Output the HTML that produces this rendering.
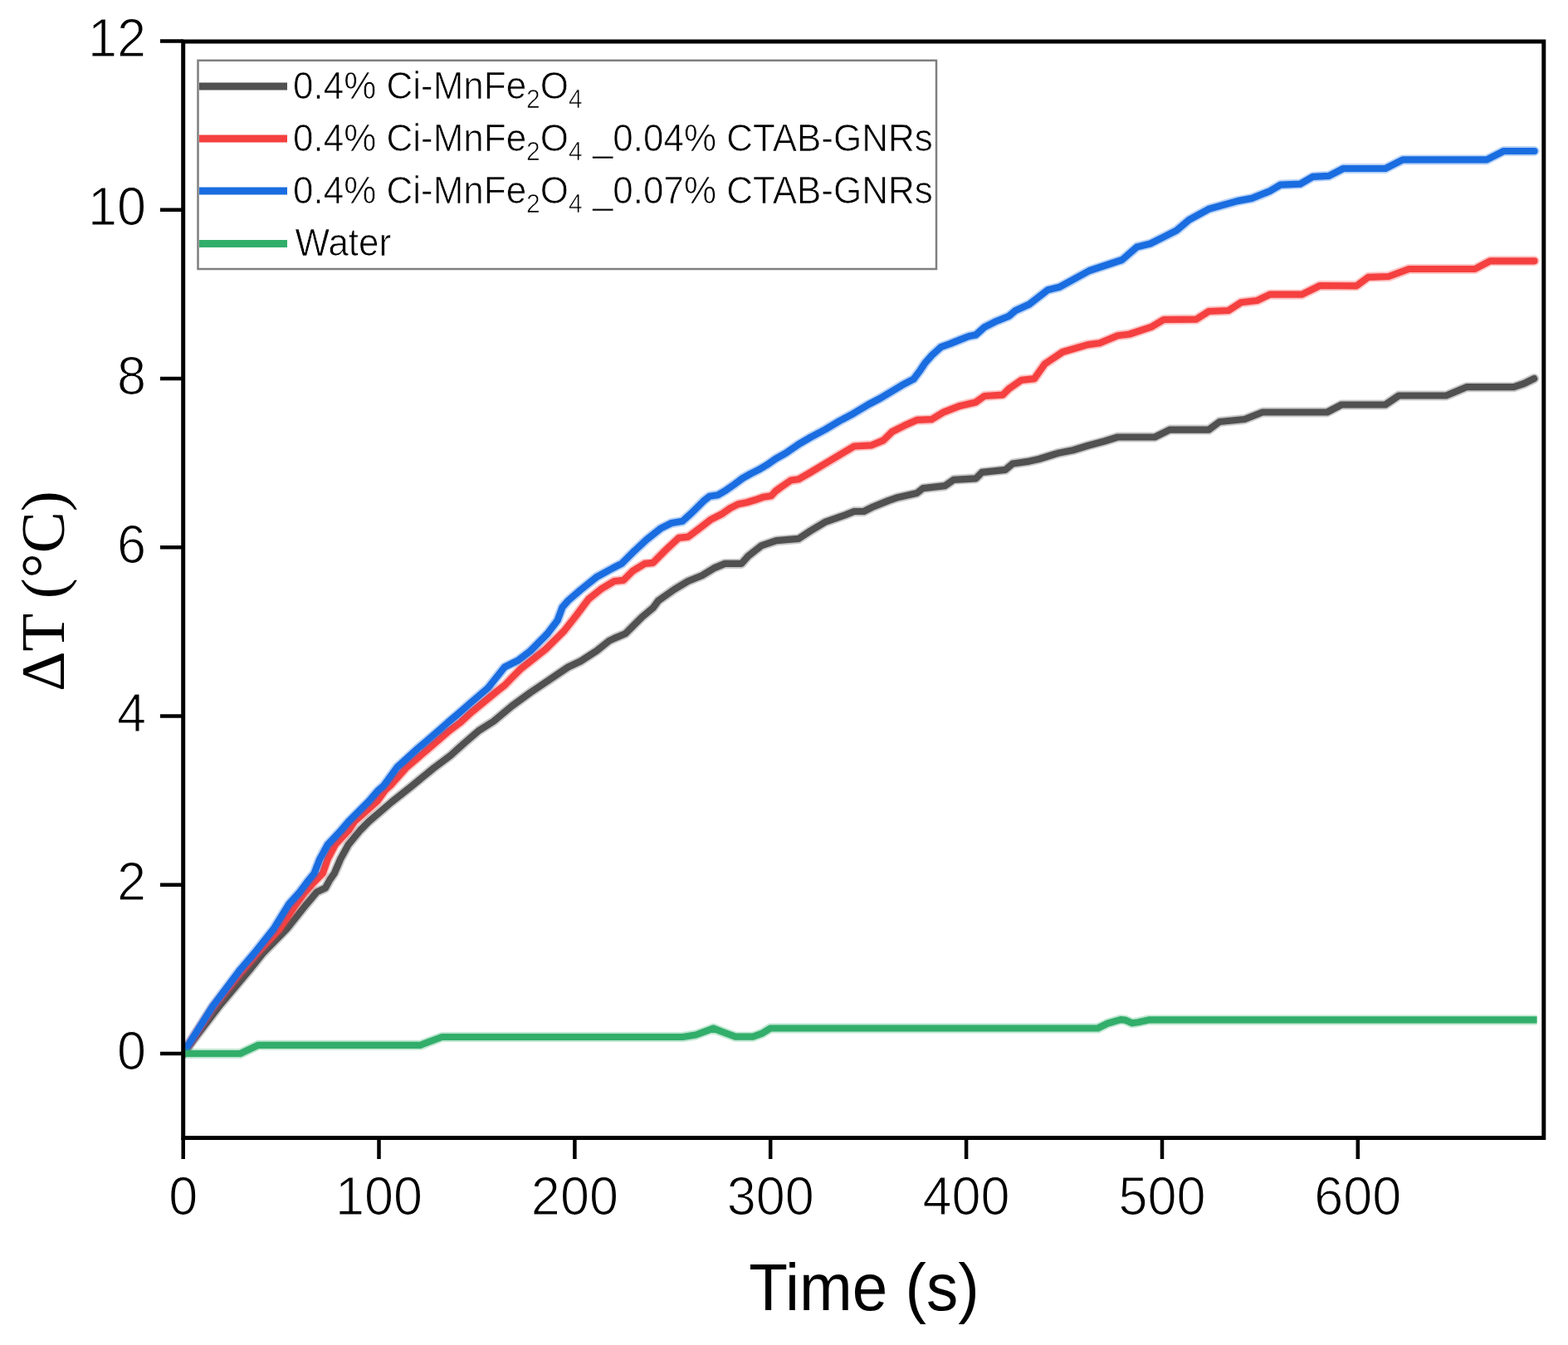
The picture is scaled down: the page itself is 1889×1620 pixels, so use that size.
<!DOCTYPE html>
<html><head><meta charset="utf-8"><title>Heating curves</title>
<style>html,body{margin:0;padding:0;background:#fff;}body{width:1889px;height:1620px;overflow:hidden;}svg{display:block;}</style>
</head><body>
<svg width="1889" height="1620" viewBox="0 0 1889 1620"><defs><clipPath id="pa"><rect x="220.7" y="50.0" width="1639.1" height="1320.5"/></clipPath></defs><rect width="1889" height="1620" fill="#fff"/><g fill="none" stroke-width="8.2" stroke-linejoin="round" stroke-linecap="round" clip-path="url(#pa)"><polyline points="220.7,1268.7 263.8,1212.2 301.0,1167.8 316.5,1148.5 345.4,1118.9 369.1,1089.3 381.7,1074.4 392.0,1069.5 397.4,1059.6 402.8,1051.9 410.2,1034.6 419.7,1017.3 434.0,1000.0 444.5,989.4 471.8,966.0 495.2,947.5 522.0,925.5 542.7,910.0 559.4,895.0 577.3,879.7 594.5,868.9 616.7,850.4 639.0,834.1 659.8,820.2 684.4,803.5 699.3,796.5 719.0,783.7 733.8,771.9 740.0,768.9 753.3,763.3 773.3,743.3 786.7,732.2 793.3,723.3 812.2,710.0 828.9,700.0 845.6,693.3 860.0,684.4 873.3,678.9 893.3,678.9 901.1,670.0 917.6,657.1 935.2,651.2 962.1,648.9 976.2,639.5 993.8,628.9 1017.3,620.7 1029.0,616.0 1040.7,616.0 1052.4,610.2 1070.0,603.1 1080.0,599.6 1104.4,594.1 1111.9,588.1 1138.5,585.2 1148.9,577.8 1175.6,576.3 1183.0,568.9 1211.1,565.9 1220.0,558.5 1240.0,555.6 1251.5,553.0 1274.8,545.8 1292.7,542.2 1310.6,536.8 1330.3,531.5 1346.4,526.5 1391.2,526.5 1409.1,517.6 1417.3,517.6 1456.2,517.6 1469.2,508.0 1499.4,505.0 1521.0,496.5 1598.8,496.5 1616.1,487.5 1668.9,487.5 1685.2,476.5 1742.2,476.5 1766.7,466.2 1823.7,466.2 1836.0,462.0 1848.2,456.0" stroke="#515151" stroke-width="12" stroke-opacity="0.3" stroke-linecap="round"/><polyline points="220.7,1268.7 263.8,1212.2 301.0,1167.8 316.5,1148.5 345.4,1118.9 369.1,1089.3 381.7,1074.4 392.0,1069.5 397.4,1059.6 402.8,1051.9 410.2,1034.6 419.7,1017.3 434.0,1000.0 444.5,989.4 471.8,966.0 495.2,947.5 522.0,925.5 542.7,910.0 559.4,895.0 577.3,879.7 594.5,868.9 616.7,850.4 639.0,834.1 659.8,820.2 684.4,803.5 699.3,796.5 719.0,783.7 733.8,771.9 740.0,768.9 753.3,763.3 773.3,743.3 786.7,732.2 793.3,723.3 812.2,710.0 828.9,700.0 845.6,693.3 860.0,684.4 873.3,678.9 893.3,678.9 901.1,670.0 917.6,657.1 935.2,651.2 962.1,648.9 976.2,639.5 993.8,628.9 1017.3,620.7 1029.0,616.0 1040.7,616.0 1052.4,610.2 1070.0,603.1 1080.0,599.6 1104.4,594.1 1111.9,588.1 1138.5,585.2 1148.9,577.8 1175.6,576.3 1183.0,568.9 1211.1,565.9 1220.0,558.5 1240.0,555.6 1251.5,553.0 1274.8,545.8 1292.7,542.2 1310.6,536.8 1330.3,531.5 1346.4,526.5 1391.2,526.5 1409.1,517.6 1417.3,517.6 1456.2,517.6 1469.2,508.0 1499.4,505.0 1521.0,496.5 1598.8,496.5 1616.1,487.5 1668.9,487.5 1685.2,476.5 1742.2,476.5 1766.7,466.2 1823.7,466.2 1836.0,462.0 1848.2,456.0" stroke="#515151" stroke-linecap="round"/><polyline points="220.7,1268.7 256.1,1214.0 290.0,1171.0 310.6,1147.0 336.5,1118.9 356.5,1089.3 367.6,1074.4 376.0,1065.0 388.8,1051.9 394.8,1034.6 403.9,1017.3 420.1,1000.0 427.1,989.4 454.8,964.7 463.5,952.3 470.2,946.3 490.0,924.1 516.0,901.9 541.8,879.7 554.8,870.0 567.2,858.5 598.8,832.5 608.4,825.0 616.0,817.0 626.9,806.0 638.0,797.2 657.3,782.0 679.5,760.0 694.3,741.2 709.1,721.5 724.0,709.6 740.0,700.0 751.1,698.9 762.2,687.8 776.7,678.9 786.7,677.8 801.1,663.3 817.8,647.8 828.9,646.7 842.2,636.7 856.7,625.6 869.8,619.0 879.6,612.1 889.5,607.2 899.4,605.2 909.3,602.3 919.2,598.8 929.1,597.3 934.0,591.9 940.0,587.4 952.8,578.5 962.1,577.3 976.2,569.1 993.8,558.6 1011.4,548.0 1029.0,537.5 1050.1,536.3 1064.2,530.4 1074.8,520.0 1089.6,512.6 1104.4,505.9 1122.2,505.2 1137.0,496.3 1156.3,488.9 1175.6,484.4 1185.9,477.0 1208.1,475.6 1215.6,468.1 1230.4,457.8 1246.1,456.2 1258.7,438.3 1280.1,424.0 1310.6,415.1 1324.9,413.3 1346.4,404.3 1360.7,402.5 1387.6,393.6 1401.9,385.0 1441.1,384.6 1456.2,375.0 1480.0,374.0 1495.1,364.3 1514.5,362.0 1529.7,354.7 1568.6,354.7 1590.2,344.0 1634.3,344.3 1648.5,333.8 1673.0,333.0 1697.4,324.0 1776.9,324.0 1795.2,314.3 1848.5,314.3" stroke="#f54040" stroke-width="12" stroke-opacity="0.3" stroke-linecap="round"/><polyline points="220.7,1268.7 256.1,1214.0 290.0,1171.0 310.6,1147.0 336.5,1118.9 356.5,1089.3 367.6,1074.4 376.0,1065.0 388.8,1051.9 394.8,1034.6 403.9,1017.3 420.1,1000.0 427.1,989.4 454.8,964.7 463.5,952.3 470.2,946.3 490.0,924.1 516.0,901.9 541.8,879.7 554.8,870.0 567.2,858.5 598.8,832.5 608.4,825.0 616.0,817.0 626.9,806.0 638.0,797.2 657.3,782.0 679.5,760.0 694.3,741.2 709.1,721.5 724.0,709.6 740.0,700.0 751.1,698.9 762.2,687.8 776.7,678.9 786.7,677.8 801.1,663.3 817.8,647.8 828.9,646.7 842.2,636.7 856.7,625.6 869.8,619.0 879.6,612.1 889.5,607.2 899.4,605.2 909.3,602.3 919.2,598.8 929.1,597.3 934.0,591.9 940.0,587.4 952.8,578.5 962.1,577.3 976.2,569.1 993.8,558.6 1011.4,548.0 1029.0,537.5 1050.1,536.3 1064.2,530.4 1074.8,520.0 1089.6,512.6 1104.4,505.9 1122.2,505.2 1137.0,496.3 1156.3,488.9 1175.6,484.4 1185.9,477.0 1208.1,475.6 1215.6,468.1 1230.4,457.8 1246.1,456.2 1258.7,438.3 1280.1,424.0 1310.6,415.1 1324.9,413.3 1346.4,404.3 1360.7,402.5 1387.6,393.6 1401.9,385.0 1441.1,384.6 1456.2,375.0 1480.0,374.0 1495.1,364.3 1514.5,362.0 1529.7,354.7 1568.6,354.7 1590.2,344.0 1634.3,344.3 1648.5,333.8 1673.0,333.0 1697.4,324.0 1776.9,324.0 1795.2,314.3 1848.5,314.3" stroke="#f54040" stroke-linecap="round"/><polyline points="220.7,1268.7 226.7,1258.9 256.1,1212.2 289.4,1167.8 306.0,1148.5 329.6,1118.9 347.8,1089.3 361.1,1074.4 371.9,1060.0 378.5,1052.0 385.3,1034.6 394.8,1017.3 411.0,1000.0 420.0,989.4 444.7,964.7 455.2,952.3 462.2,946.3 478.4,924.1 502.9,901.9 528.9,879.7 539.8,870.0 553.4,858.5 567.0,846.5 588.0,828.5 607.9,803.5 624.0,795.5 639.0,784.0 659.7,763.0 671.6,747.2 677.5,731.4 684.4,723.5 699.3,710.6 719.0,694.8 738.8,684.0 748.9,678.9 762.2,665.6 778.9,650.0 795.6,636.7 808.9,630.0 822.2,627.8 834.4,616.7 847.8,603.3 854.9,597.8 864.8,596.3 874.7,590.4 884.6,583.5 894.5,576.1 904.3,570.6 914.2,565.7 924.1,559.8 934.0,552.8 946.9,545.7 962.1,535.1 976.2,526.9 993.8,517.5 1011.4,507.0 1029.0,497.6 1046.6,487.0 1060.0,480.0 1070.0,474.0 1086.7,463.9 1100.6,456.7 1108.9,445.6 1114.4,437.2 1122.8,427.8 1133.9,417.8 1145.0,413.9 1156.1,409.4 1167.2,405.0 1175.6,403.4 1185.9,394.1 1200.7,386.7 1215.6,380.7 1223.0,374.3 1240.0,366.5 1262.2,349.3 1276.6,345.7 1312.4,326.0 1351.8,313.0 1369.7,297.4 1385.8,293.5 1400.0,286.4 1417.3,277.6 1432.4,264.8 1456.2,251.8 1490.8,242.1 1508.1,238.9 1529.7,230.2 1542.6,222.6 1566.4,221.6 1581.5,212.9 1601.0,211.8 1618.3,203.0 1669.0,203.0 1690.0,192.4 1791.1,192.4 1811.5,182.0 1848.5,182.0" stroke="#1a6de0" stroke-width="12" stroke-opacity="0.3" stroke-linecap="round"/><polyline points="220.7,1268.7 226.7,1258.9 256.1,1212.2 289.4,1167.8 306.0,1148.5 329.6,1118.9 347.8,1089.3 361.1,1074.4 371.9,1060.0 378.5,1052.0 385.3,1034.6 394.8,1017.3 411.0,1000.0 420.0,989.4 444.7,964.7 455.2,952.3 462.2,946.3 478.4,924.1 502.9,901.9 528.9,879.7 539.8,870.0 553.4,858.5 567.0,846.5 588.0,828.5 607.9,803.5 624.0,795.5 639.0,784.0 659.7,763.0 671.6,747.2 677.5,731.4 684.4,723.5 699.3,710.6 719.0,694.8 738.8,684.0 748.9,678.9 762.2,665.6 778.9,650.0 795.6,636.7 808.9,630.0 822.2,627.8 834.4,616.7 847.8,603.3 854.9,597.8 864.8,596.3 874.7,590.4 884.6,583.5 894.5,576.1 904.3,570.6 914.2,565.7 924.1,559.8 934.0,552.8 946.9,545.7 962.1,535.1 976.2,526.9 993.8,517.5 1011.4,507.0 1029.0,497.6 1046.6,487.0 1060.0,480.0 1070.0,474.0 1086.7,463.9 1100.6,456.7 1108.9,445.6 1114.4,437.2 1122.8,427.8 1133.9,417.8 1145.0,413.9 1156.1,409.4 1167.2,405.0 1175.6,403.4 1185.9,394.1 1200.7,386.7 1215.6,380.7 1223.0,374.3 1240.0,366.5 1262.2,349.3 1276.6,345.7 1312.4,326.0 1351.8,313.0 1369.7,297.4 1385.8,293.5 1400.0,286.4 1417.3,277.6 1432.4,264.8 1456.2,251.8 1490.8,242.1 1508.1,238.9 1529.7,230.2 1542.6,222.6 1566.4,221.6 1581.5,212.9 1601.0,211.8 1618.3,203.0 1669.0,203.0 1690.0,192.4 1791.1,192.4 1811.5,182.0 1848.5,182.0" stroke="#1a6de0" stroke-linecap="round"/><polyline points="220.7,1269.0 289.5,1269.0 311.2,1258.8 506.5,1258.8 532.5,1249.0 822.4,1249.0 838.2,1246.5 859.4,1238.6 870.0,1242.8 885.9,1248.7 907.1,1248.7 917.6,1244.9 928.2,1238.5 1322.5,1238.5 1334.1,1232.8 1350.0,1228.1 1355.3,1228.6 1363.8,1232.3 1371.2,1231.2 1383.9,1228.4 1851.6,1228.4" stroke="#32ae6b" stroke-width="12" stroke-opacity="0.3" stroke-linecap="butt"/><polyline points="220.7,1269.0 289.5,1269.0 311.2,1258.8 506.5,1258.8 532.5,1249.0 822.4,1249.0 838.2,1246.5 859.4,1238.6 870.0,1242.8 885.9,1248.7 907.1,1248.7 917.6,1244.9 928.2,1238.5 1322.5,1238.5 1334.1,1232.8 1350.0,1228.1 1355.3,1228.6 1363.8,1232.3 1371.2,1231.2 1383.9,1228.4 1851.6,1228.4" stroke="#32ae6b" stroke-linecap="butt"/></g><rect x="220.7" y="50.0" width="1639.1" height="1320.5" fill="none" stroke="#000" stroke-width="5"/><path d="M220.7,1370.5V1396M456.5,1370.5V1396M692.4,1370.5V1396M928.2,1370.5V1396M1164.1,1370.5V1396M1400.0,1370.5V1396M1635.8,1370.5V1396M220.7,1269.0H193M220.7,1065.8H193M220.7,862.5H193M220.7,659.3H193M220.7,456.0H193M220.7,252.8H193M220.7,49.6H193" stroke="#000" stroke-width="4.5" fill="none"/><g font-family="'Liberation Sans', Arial, Helvetica, sans-serif" font-size="63" fill="#000" stroke="#fff" stroke-width="1.2"><text transform="translate(220.7,1462.8) scale(1,1.035)" text-anchor="middle">0</text><text transform="translate(456.5,1462.8) scale(1,1.035)" text-anchor="middle">100</text><text transform="translate(692.4,1462.8) scale(1,1.035)" text-anchor="middle">200</text><text transform="translate(928.2,1462.8) scale(1,1.035)" text-anchor="middle">300</text><text transform="translate(1164.1,1462.8) scale(1,1.035)" text-anchor="middle">400</text><text transform="translate(1400.0,1462.8) scale(1,1.035)" text-anchor="middle">500</text><text transform="translate(1635.8,1462.8) scale(1,1.035)" text-anchor="middle">600</text><text transform="translate(176,1287.5) scale(1,1.035)" text-anchor="end">0</text><text transform="translate(176,1084.3) scale(1,1.035)" text-anchor="end">2</text><text transform="translate(176,881.0) scale(1,1.035)" text-anchor="end">4</text><text transform="translate(176,677.8) scale(1,1.035)" text-anchor="end">6</text><text transform="translate(176,474.5) scale(1,1.035)" text-anchor="end">8</text><text transform="translate(176,271.3) scale(1,1.035)" text-anchor="end">10</text><text transform="translate(176,68.1) scale(1,1.035)" text-anchor="end">12</text></g><text transform="translate(1041,1578) scale(1.0,1.03)" text-anchor="middle" font-family="'Liberation Sans', Arial, Helvetica, sans-serif" font-size="76.5">Time (s)</text><text transform="translate(77,712) rotate(-90)" text-anchor="middle" font-family="'Liberation Serif', 'Times New Roman', Times, serif" font-size="75">ΔT (°C)</text><rect x="238.5" y="72.8" width="889.5" height="251.2" fill="#fff" stroke="#7f7f7f" stroke-width="2.5"/><g font-family="'Liberation Sans', Arial, Helvetica, sans-serif" font-size="44" fill="#000" stroke="#fff" stroke-width="0.7"><line x1="240" y1="104" x2="346" y2="104" stroke="#515151" stroke-width="9"/><text transform="translate(353,119) scale(1,1.04)">0.4% Ci-MnFe<tspan font-size="30" dy="11">2</tspan><tspan dy="-11">O</tspan><tspan font-size="30" dy="11">4</tspan></text><line x1="240" y1="167" x2="346" y2="167" stroke="#f54040" stroke-width="9"/><text transform="translate(353,182.0) scale(1,1.04)">0.4% Ci-MnFe<tspan font-size="30" dy="11">2</tspan><tspan dy="-11">O</tspan><tspan font-size="30" dy="11">4</tspan><tspan dy="-11"> _0.04% CTAB-GNRs</tspan></text><line x1="240" y1="230" x2="346" y2="230" stroke="#1a6de0" stroke-width="9"/><text transform="translate(353,244.8) scale(1,1.04)">0.4% Ci-MnFe<tspan font-size="30" dy="11">2</tspan><tspan dy="-11">O</tspan><tspan font-size="30" dy="11">4</tspan><tspan dy="-11"> _0.07% CTAB-GNRs</tspan></text><line x1="240" y1="293.5" x2="346" y2="293.5" stroke="#32ae6b" stroke-width="9"/><text transform="translate(355.5,308) scale(1,1.04)">Water</text></g></svg>
</body></html>
